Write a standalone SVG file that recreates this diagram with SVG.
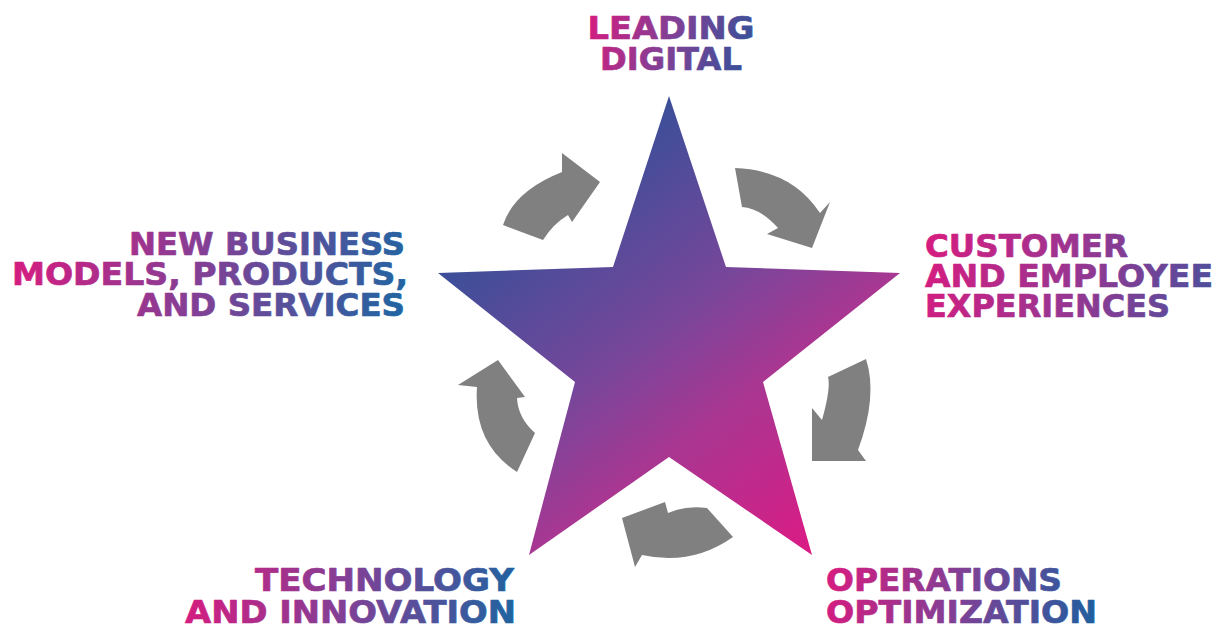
<svg xmlns="http://www.w3.org/2000/svg" width="1220" height="632" viewBox="0 0 1220 632">
  <defs>
    <linearGradient id="gStar" gradientUnits="userSpaceOnUse" x1="669" y1="96" x2="944" y2="455">
      <stop offset="0" stop-color="#3b4f99"/>
      <stop offset="0.4" stop-color="#78469a"/>
      <stop offset="0.62" stop-color="#a83792"/>
      <stop offset="1" stop-color="#dc1a84"/>
    </linearGradient>
    <linearGradient id="gLead" gradientUnits="userSpaceOnUse" x1="588" y1="12" x2="755" y2="69">
      <stop offset="0" stop-color="#d81b7f"/>
      <stop offset="0.5" stop-color="#7e4196"/>
      <stop offset="1" stop-color="#2f5399"/>
    </linearGradient>
    <linearGradient id="gCust" gradientUnits="userSpaceOnUse" x1="925" y1="233" x2="1213" y2="317">
      <stop offset="0" stop-color="#d81b7f"/>
      <stop offset="0.5" stop-color="#9a3591"/>
      <stop offset="1" stop-color="#4a509c"/>
    </linearGradient>
    <linearGradient id="gNew" gradientUnits="userSpaceOnUse" x1="12" y1="232" x2="408" y2="317">
      <stop offset="0" stop-color="#d81b7f"/>
      <stop offset="0.5" stop-color="#7e4196"/>
      <stop offset="1" stop-color="#1d66a2"/>
    </linearGradient>
    <linearGradient id="gTech" gradientUnits="userSpaceOnUse" x1="185" y1="570" x2="516" y2="624">
      <stop offset="0" stop-color="#d81b7f"/>
      <stop offset="0.5" stop-color="#7e4196"/>
      <stop offset="1" stop-color="#1d64a0"/>
    </linearGradient>
    <linearGradient id="gOps" gradientUnits="userSpaceOnUse" x1="826" y1="568" x2="1097" y2="624">
      <stop offset="0" stop-color="#d81b7f"/>
      <stop offset="0.5" stop-color="#7e4196"/>
      <stop offset="1" stop-color="#1d5f9e"/>
    </linearGradient>
  </defs>
  <style>
    .lbl { font-family: "DejaVu Sans", "Liberation Sans", sans-serif; font-weight: bold; font-size: 32px; stroke-width: 0.7px; stroke-linejoin: round; }
    .arrow { fill: #808080; stroke: none; }
  </style>
  <rect width="1220" height="632" fill="#ffffff"/>

  <g id="star">
    <path d="M669,96 L726,267 L900,273 L763,382 L812,555 L669,457 L529,555 L575,382 L438,273 L613,267 Z" fill="url(#gStar)"/>
  </g>

  <g id="connectors">
    <path class="arrow" d="M503,225 Q514,191 562,172 L562,153 L600,182 L572,222 L568,215 Q553,224 543,240 Z"/>
    <path class="arrow" d="M735,168 Q792,170 820,213 L830,202 L812,248 L767,234 L778,228 Q760,208 742,207 Z"/>
    <path class="arrow" d="M866,359 Q878,396 858,450 L866,461 L812,461 L812,408 L822,420 Q831,388 828,377 Z"/>
    <path class="arrow" d="M733,537 Q692,566 642,555 L635,567 L622,518 L665,502 L668,513 Q686,505 707,508 Z"/>
    <path class="arrow" d="M517,472 Q473,444 477,387 L458,385 L498,360 L525,397 L517,398 Q518,418 535,433 Z"/>
  </g>

  <g id="leading-digital" class="lbl" fill="url(#gLead)" stroke="url(#gLead)" text-anchor="middle">
    <text x="671" y="39" textLength="167" lengthAdjust="spacingAndGlyphs">LEADING</text>
    <text x="671" y="70" textLength="142" lengthAdjust="spacingAndGlyphs">DIGITAL</text>
  </g>

  <g id="customer-employee" class="lbl" fill="url(#gCust)" stroke="url(#gCust)">
    <text x="925" y="257" textLength="203" lengthAdjust="spacingAndGlyphs">CUSTOMER</text>
    <text x="925" y="287" textLength="288" lengthAdjust="spacingAndGlyphs">AND EMPLOYEE</text>
    <text x="925" y="317" textLength="245" lengthAdjust="spacingAndGlyphs">EXPERIENCES</text>
  </g>

  <g id="new-business" class="lbl" fill="url(#gNew)" stroke="url(#gNew)" text-anchor="end">
    <text x="405" y="255" textLength="276" lengthAdjust="spacingAndGlyphs">NEW BUSINESS</text>
    <text x="408" y="285" textLength="396" lengthAdjust="spacingAndGlyphs">MODELS, PRODUCTS,</text>
    <text x="405" y="316" textLength="268" lengthAdjust="spacingAndGlyphs">AND SERVICES</text>
  </g>

  <g id="technology-innovation" class="lbl" fill="url(#gTech)" stroke="url(#gTech)" text-anchor="end">
    <text x="514" y="591" textLength="259" lengthAdjust="spacingAndGlyphs">TECHNOLOGY</text>
    <text x="516" y="623" textLength="331" lengthAdjust="spacingAndGlyphs">AND INNOVATION</text>
  </g>

  <g id="operations-optimization" class="lbl" fill="url(#gOps)" stroke="url(#gOps)">
    <text x="826" y="591" textLength="236" lengthAdjust="spacingAndGlyphs">OPERATIONS</text>
    <text x="826" y="623" textLength="271" lengthAdjust="spacingAndGlyphs">OPTIMIZATION</text>
  </g>
</svg>
